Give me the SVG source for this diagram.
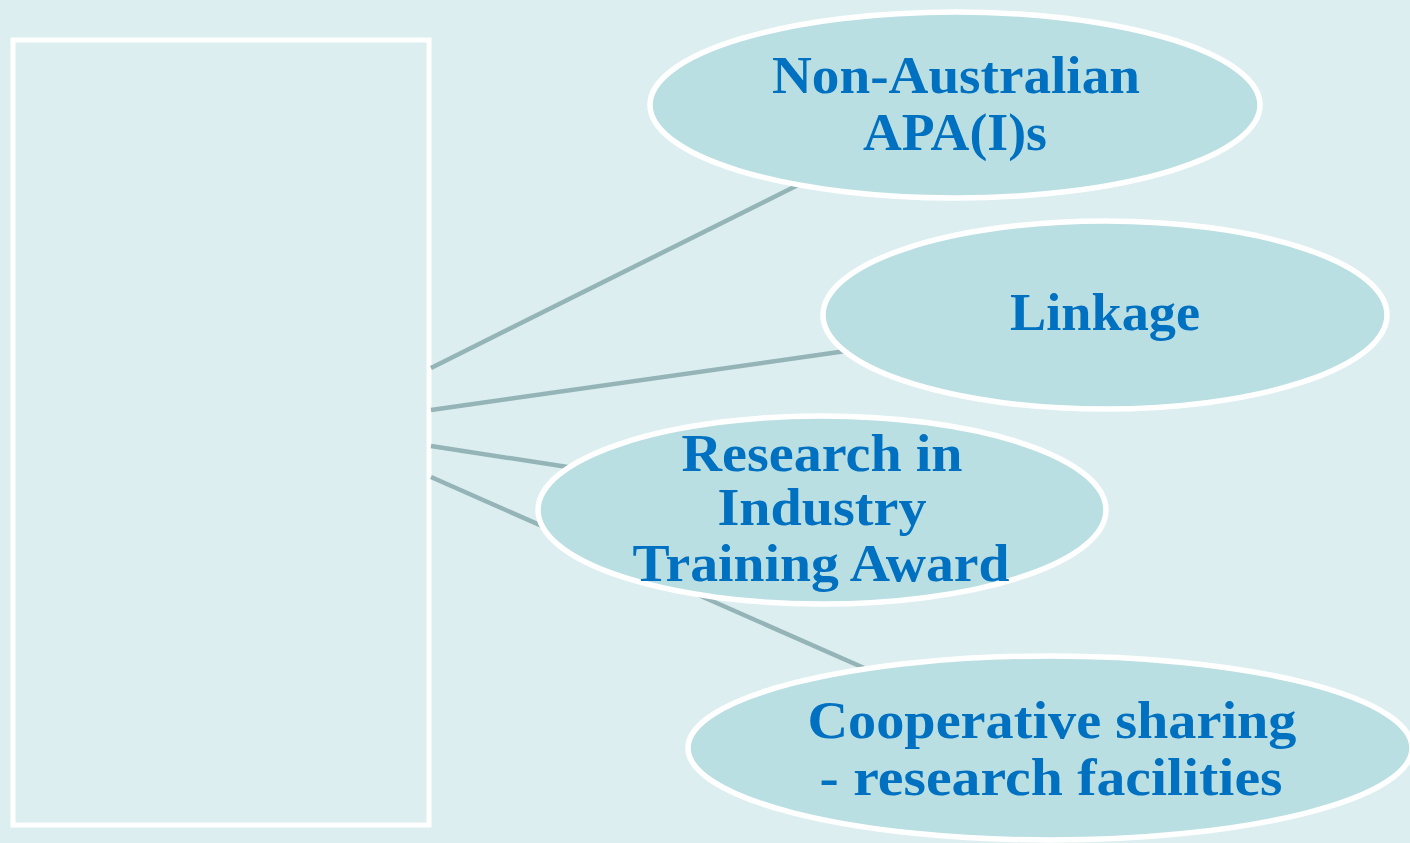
<svg xmlns="http://www.w3.org/2000/svg" width="1410" height="843" viewBox="0 0 1410 843">
<style>
.node ellipse{fill:#BADFE2;stroke:#FFFFFF;stroke-width:5.5}
.lbl{font-family:"Liberation Serif","DejaVu Serif",serif;font-weight:bold;font-size:53px;fill:#0070C0;text-anchor:middle}
.conn line{stroke:#94B4B7;stroke-width:4.5}
</style>
<rect x="0" y="0" width="1410" height="843" fill="#DCEEF0"/>
<g id="box"><rect x="13" y="40" width="416" height="785" fill="#DCEEF0" stroke="#FFFFFF" stroke-width="5"/></g>
<g id="connectors" class="conn">
<line x1="431" y1="368" x2="830" y2="169"/>
<line x1="431" y1="410" x2="860" y2="349"/>
<line x1="431" y1="446" x2="600" y2="472"/>
<line x1="431" y1="477" x2="880" y2="675"/>
</g>
<g id="n1" class="node"><ellipse cx="955" cy="105" rx="305" ry="93"/>
<text class="lbl" x="956" y="93" textLength="368" lengthAdjust="spacingAndGlyphs">Non-Australian</text><text class="lbl" x="955" y="150" textLength="184" lengthAdjust="spacingAndGlyphs">APA(I)s</text></g>
<g id="n2" class="node"><ellipse cx="1105" cy="315" rx="282" ry="94"/>
<text class="lbl" x="1105" y="330" textLength="190" lengthAdjust="spacingAndGlyphs">Linkage</text></g>
<g id="n3" class="node"><ellipse cx="822" cy="510" rx="284" ry="94"/>
<text class="lbl" x="822" y="471" textLength="281" lengthAdjust="spacingAndGlyphs">Research in</text><text class="lbl" x="822" y="525" textLength="209" lengthAdjust="spacingAndGlyphs">Industry</text><text class="lbl" x="821" y="581" textLength="377" lengthAdjust="spacingAndGlyphs">Training Award</text></g>
<g id="n4" class="node"><ellipse cx="1050" cy="748" rx="362" ry="92"/>
<text class="lbl" x="1052" y="738" textLength="489" lengthAdjust="spacingAndGlyphs">Cooperative sharing</text><text class="lbl" x="1051" y="795" textLength="463" lengthAdjust="spacingAndGlyphs">- research facilities</text></g>
</svg>
